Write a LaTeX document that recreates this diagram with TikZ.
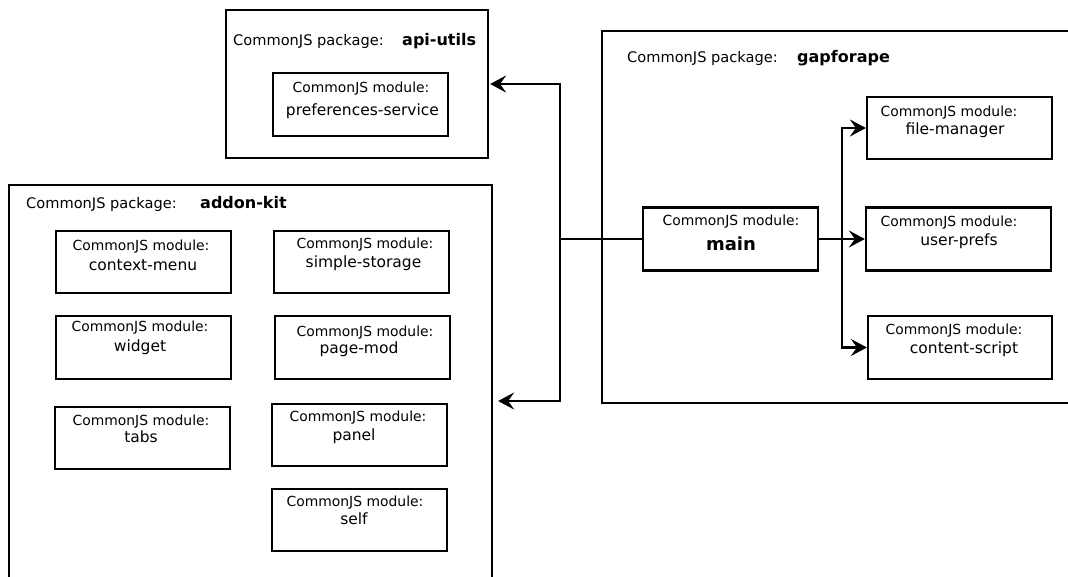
\documentclass[tikz,border=0pt]{standalone}
\usepackage{fontspec}
\setmainfont{DejaVu Sans}
\usetikzlibrary{arrows.meta}
\begin{document}
\begin{tikzpicture}[x=1pt,y=-1pt,
  pkgbox/.style={draw,line width=2.2pt,inner sep=0pt},
  modbox/.style={draw,line width=2.2pt,inner sep=0pt,minimum width=175pt,minimum height=62pt},
  pkglbl/.style={inner sep=0pt,anchor=west,text height=.73em,text depth=0pt,font=\fontsize{14.6}{17}\selectfont},
  pkgname/.style={inner sep=0pt,anchor=west,text height=.73em,text depth=0pt,font=\fontsize{16}{19}\selectfont\bfseries},
  modlbl/.style={inner sep=0pt,text height=.73em,text depth=0pt,font=\fontsize{13.9}{16}\selectfont},
  modname/.style={inner sep=0pt,text height=.73em,text depth=0pt,font=\fontsize{15.5}{18}\selectfont},
  link/.style={line width=2.2pt},
  dep/.style={line width=2.2pt,-{Stealth[length=16pt,width=17pt,inset=6pt]}}]
\useasboundingbox (0,0) rectangle (1068,576);
\fill[white] (0,0) rectangle (1068,576);

% package: api-utils
\node[pkgbox,minimum width=262pt,minimum height=148pt] (api) at (357,84) {};
\node[pkglbl] (apiL) at (233,42) {CommonJS package:};
\node[pkgname] (apiN) at (402,42) {api-utils};
\node[modbox,minimum height=63pt] (ps) at (360.5,104.5) {};
\node[modlbl] (psL) at (361,89) {CommonJS module:};
\node[modname] (psN) at (362.5,112) {preferences-service};

% package: addon-kit
\node[pkgbox,minimum width=483pt,minimum height=432pt] (addon) at (250.5,401) {};
\node[pkglbl] (addonL) at (26,205) {CommonJS package:};
\node[pkgname] (addonN) at (200,205) {addon-kit};

\node[modbox] (cm) at (143.5,262) {};
\node[modlbl] (cmL) at (141,247) {CommonJS module:};
\node[modname] (cmN) at (143,267) {context-menu};

\node[modbox] (ss) at (361.5,262) {};
\node[modlbl] (ssL) at (365,245) {CommonJS module:};
\node[modname] (ssN) at (363.5,264) {simple-storage};

\node[modbox,minimum height=63pt] (wg) at (143.5,347.5) {};
\node[modlbl] (wgL) at (140,328) {CommonJS module:};
\node[modname] (wgN) at (140,348) {widget};

\node[modbox,minimum height=63pt] (pm) at (362.5,347.5) {};
\node[modlbl] (pmL) at (365,333) {CommonJS module:};
\node[modname] (pmN) at (359,350) {page-mod};

\node[modbox] (tb) at (142.5,438) {};
\node[modlbl] (tbL) at (141,422) {CommonJS module:};
\node[modname] (tbN) at (141,439) {tabs};

\node[modbox] (pn) at (359.5,435) {};
\node[modlbl] (pnL) at (358,418) {CommonJS module:};
\node[modname] (pnN) at (354,437) {panel};

\node[modbox] (sf) at (359.5,520) {};
\node[modlbl] (sfL) at (355,503) {CommonJS module:};
\node[modname] (sfN) at (354,521) {self};

% package: gapforape
\node[pkgbox,minimum width=498pt,minimum height=372pt] (gap) at (851,217) {};
\node[pkglbl] (gapL) at (627,59) {CommonJS package:};
\node[pkgname] (gapN) at (797,59) {gapforape};

\node[modbox,minimum height=63pt] (mn) at (730.5,239) {};
\node[modlbl] (mnL) at (731,222) {CommonJS module:};
\node[modname,font=\fontsize{18}{21}\selectfont\bfseries] (mnN) at (731,247) {main};

\node[modbox,minimum width=185pt] (fm) at (959.5,128) {};
\node[modlbl] (fmL) at (949,113) {CommonJS module:};
\node[modname] (fmN) at (955,131) {file-manager};

\node[modbox,minimum width=185pt,minimum height=63pt] (up) at (958.5,239) {};
\node[modlbl] (upL) at (949,223) {CommonJS module:};
\node[modname] (upN) at (959,242) {user-prefs};

\node[modbox,minimum width=184pt,minimum height=63pt] (cs) at (960,347.5) {};
\node[modlbl] (csL) at (954,331) {CommonJS module:};
\node[modname] (csN) at (964,350) {content-script};

% dependencies of main
\coordinate (jl) at (560,239);
\coordinate (jr) at (842,239);
\draw[link] (mn.west) -- (jl);
\draw[dep,shorten >=1pt] (jl) |- (api.east);
\draw[dep,shorten >=5pt] (jl) |- (addon.east);
\draw[link] (mn.east) -- (jr);
\draw[dep] (jr) |- (fm.west);
\draw[dep] (jr) -- (up.west);
\draw[dep] (jr) |- (cs.west);
\end{tikzpicture}
\end{document}
